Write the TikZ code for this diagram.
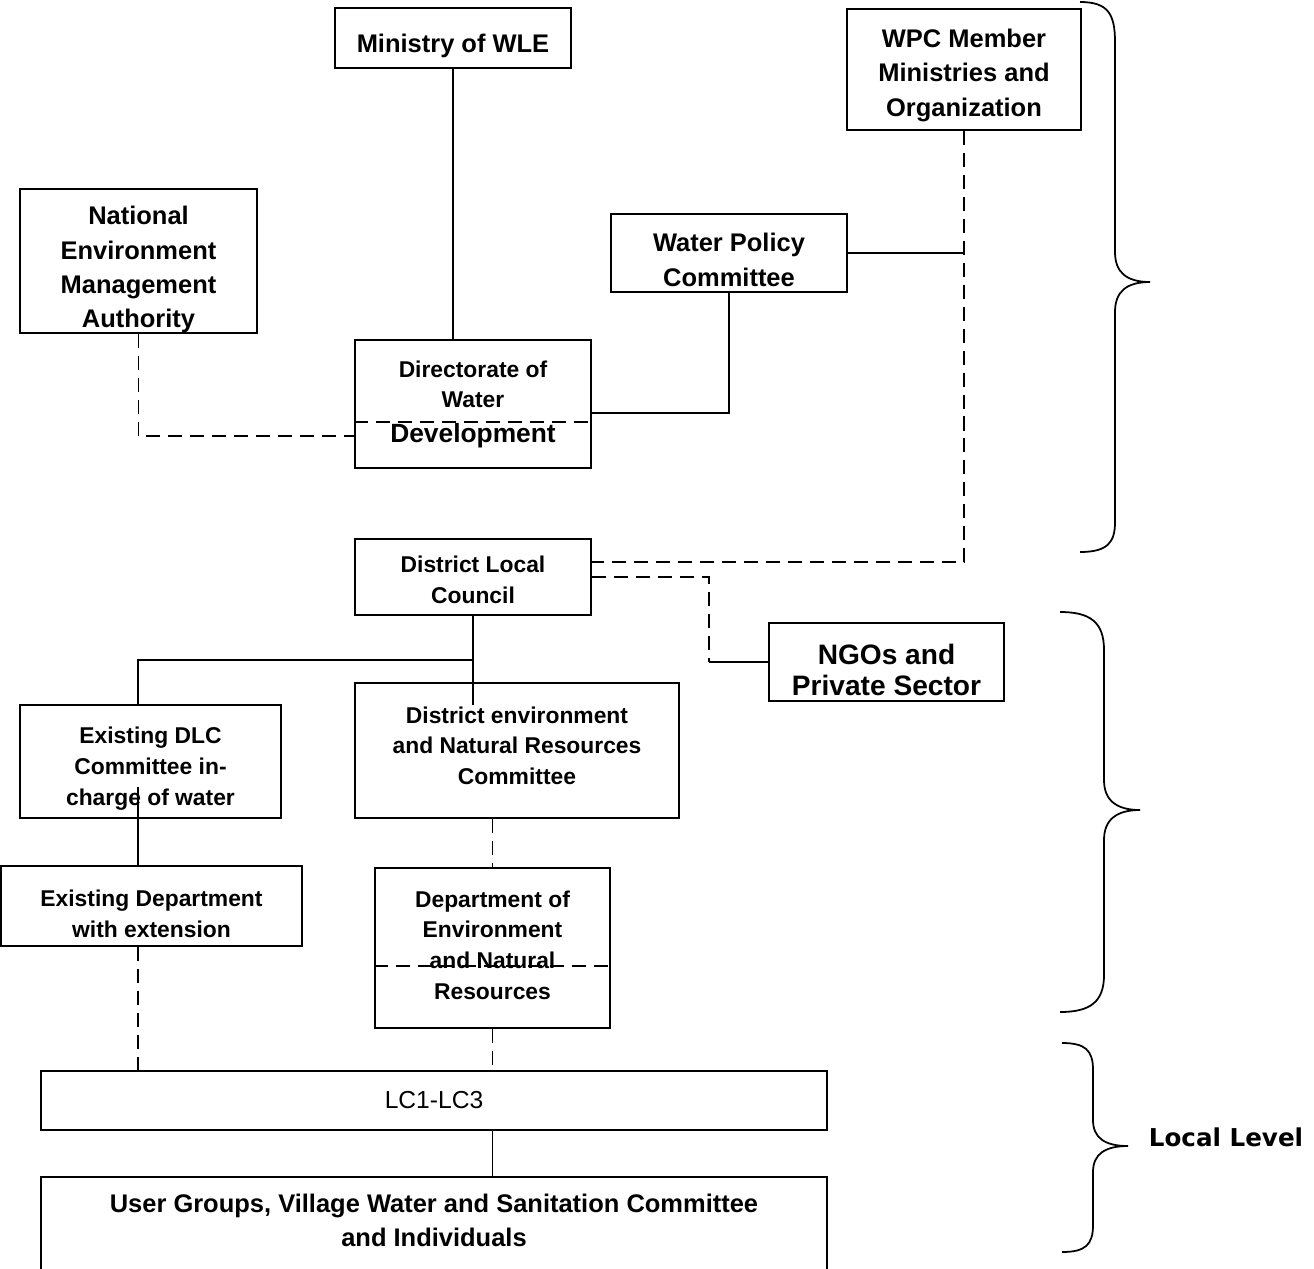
\documentclass[tikz,border=0pt]{standalone}
\usepackage{fontspec}
\setmainfont{Liberation Sans}
\newfontfamily\lvlfont{DejaVu Sans}
\usetikzlibrary{positioning}
% struts that move a box's text down or up inside the box
\newcommand\txtlow[1]{\rule{0pt}{\dimexpr0.72em+#1\relax}}
\newcommand\txthigh[1]{\rule[-#1]{0pt}{#1}}
\tikzset{
    %Define style for boxes
    orgbox/.style={
           rectangle,
           draw=black, line width=1.1pt,
           align=center,
           inner sep=0pt},
    bigtxt/.style={font=\fontsize{14.5}{19.5}\selectfont\bfseries},
    smalltxt/.style={font=\fontsize{13}{17.5}\selectfont\bfseries},
    % Define line styles
    link/.style={line width=1pt},
    dashlink/.style={line width=1pt, dash pattern=on 8pt off 4.5pt},
    curly/.style={line width=1pt}
}

\begin{document}
\begin{tikzpicture}[x=0.02cm, y=-0.02cm]
\useasboundingbox (0,0) rectangle (1314,1268);
 %nodes
\node[orgbox, bigtxt, minimum width=4.72cm, minimum height=1.2cm] (min) at (453,38) {\txtlow{9pt}Ministry of WLE};
\node[orgbox, bigtxt, minimum width=4.68cm, minimum height=2.42cm] (wpc) at (964,69.5) {\txtlow{6.8pt}WPC Member\\Ministries and\\Organization};
\node[orgbox, bigtxt, minimum width=4.74cm, minimum height=2.88cm] (nema) at (138.5,261) {\txtlow{10pt}National\\Environment\\Management\\Authority};
\node[orgbox, bigtxt, minimum width=4.72cm, minimum height=1.56cm] (wpcom) at (729,253) {\txtlow{8pt}Water Policy\\Committee};
\node[orgbox, smalltxt, minimum width=4.72cm, minimum height=2.56cm] (dwd) at (473,404) {Directorate of\\Water\\[2pt]{\fontsize{15}{17}\selectfont Development}};
\node[orgbox, smalltxt, minimum width=4.72cm, minimum height=1.52cm, below=1.38cm of dwd] (dlc) {\txtlow{3.4pt}District Local\\Council};
\node[orgbox, font=\fontsize{16}{18}\selectfont\bfseries, minimum width=4.7cm, minimum height=1.56cm] (ngo) at (886.5,662) {\txtlow{9pt}NGOs and\\Private Sector};
\node[orgbox, smalltxt, minimum width=6.48cm, minimum height=2.7cm] (denr) at (517,750.5) {District environment\\and Natural Resources\\Committee\txthigh{5.6pt}};
\node[orgbox, smalltxt, minimum width=5.22cm, minimum height=2.26cm] (edlc) at (150.5,761.5) {\txtlow{8pt}Existing DLC\\Committee in-\\charge of water};
\node[orgbox, smalltxt, minimum width=6.02cm, minimum height=1.6cm] (edep) at (151.5,906) {\txtlow{9pt}Existing Department\\with extension};
\node[orgbox, smalltxt, minimum width=4.7cm, minimum height=3.2cm] (dep) at (492.5,948) {Department of\\Environment\\and Natural\\Resources\txthigh{3.4pt}};
\node[orgbox, font=\fontsize{14}{17}\selectfont, minimum width=15.72cm, minimum height=1.18cm] (lc) at (434,1100.5) {LC1-LC3};
\node[orgbox, bigtxt, minimum width=15.72cm, minimum height=2cm, below=0.9cm of lc] (ug) {User Groups, Village Water and Sanitation Committee\\and Individuals\txthigh{8pt}};
\node[font=\lvlfont\bfseries\fontsize{14}{17}\selectfont] (lvl) at (1226,1137) {Local Level};
 %junctions
\coordinate (dlcj) at (473,660);
\coordinate (dlcend) at (473,705);
\coordinate (edlcj) at (138,660);
\coordinate (edlcin) at (138,787);
\coordinate (ngoj) at (709,662);
 %connectors
\draw[link] (min.south) -- (min.south |- dwd.north);
\draw[link] (wpcom.south) |- ([yshift=-0.18cm]dwd.east);
\draw[link] (wpcom.east) -- (wpcom.east -| wpc.south);
\draw[dashlink] (wpc.south) |- ([yshift=0.3cm]dlc.east);
\draw[dashlink] (dlc.east) -| (ngoj);
\draw[link] (ngoj) -- (ngo.west);
\draw[dashlink] (nema.south) |- ([yshift=-0.64cm]dwd.west);
\draw[dashlink] ([yshift=-0.36cm]dwd.west) -- ([yshift=-0.36cm]dwd.east);
\draw[link] (dlc.south) -- (dlcend);
\draw[link] (dlcj) -- (edlcj) -- (edlcj |- edlc.north);
\draw[link] (edlcin) -- (edlcin |- edep.north);
\draw[dashlink] (dep.north |- denr.south) -- (dep.north);
\draw[dashlink] ([yshift=-0.36cm]dep.west) -- ([yshift=-0.36cm]dep.east);
\draw[dashlink] (edlcj |- edep.south) -- (edlcj |- lc.north);
\draw[dashlink] (dep.south) -- (dep.south |- lc.north);
\draw[link] (lc.south -| dep.south) -- (ug.north -| dep.south);
 %braces
\draw[curly] (1080,2) .. controls (1108,2) and (1115,14) .. (1115,42) -- (1115,252) .. controls (1115,272) and (1126,282) .. (1150,282) .. controls (1126,282) and (1115,292) .. (1115,312) -- (1115,522) .. controls (1115,542) and (1108,552) .. (1080,552);
\draw[curly] (1060,612) .. controls (1090,612) and (1104,622) .. (1104,650) -- (1104,780) .. controls (1104,800) and (1116,810) .. (1140,810) .. controls (1116,810) and (1104,820) .. (1104,840) -- (1104,975) .. controls (1104,1002) and (1090,1012) .. (1060,1012);
\draw[curly] (1062,1043) .. controls (1085,1043) and (1093,1050) .. (1093,1070) -- (1093,1120) .. controls (1093,1138) and (1105,1146) .. (1128,1146) .. controls (1105,1146) and (1093,1154) .. (1093,1172) -- (1093,1225) .. controls (1093,1245) and (1085,1252) .. (1062,1252);
\end{tikzpicture}
\end{document}
